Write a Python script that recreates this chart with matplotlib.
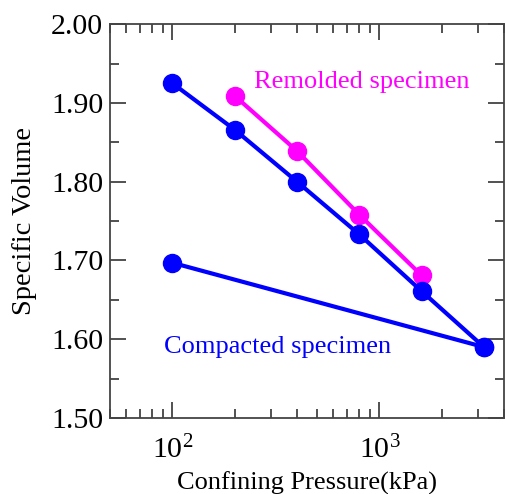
import matplotlib
matplotlib.use("Agg")
import matplotlib.pyplot as plt
from matplotlib.ticker import LogLocator, FixedLocator, MultipleLocator

plt.rcParams["font.family"] = ["Liberation Serif", "DejaVu Serif"]
plt.rcParams["mathtext.fontset"] = "stix"

# confining pressure (kPa) and specific volume
pressure_remolded = [200, 400, 800, 1600]
volume_remolded = [1.909, 1.839, 1.758, 1.681]

pressure_loading = [100, 200, 400, 800, 1600, 3200]
volume_loading = [1.925, 1.866, 1.800, 1.733, 1.661, 1.590]

pressure_compacted = [100, 3200]
volume_compacted = [1.697, 1.590]

blue = "#0000ff"
magenta = "#ff00ff"

fig = plt.figure(figsize=(5.05, 4.94), dpi=100)
ax = fig.add_axes([0.218, 0.154, 0.780, 0.797])

ax.plot(pressure_remolded, volume_remolded, "-o", color=magenta, lw=3, ms=13)
ax.plot(pressure_loading, volume_loading, "-o", color=blue, lw=3, ms=13)
ax.plot(pressure_compacted, volume_compacted, "-o", color=blue, lw=3, ms=13)

ax.text(247, 1.926, "Remolded specimen", color=magenta, fontsize=19, va="center")
ax.text(91, 1.590, "Compacted specimen", color=blue, fontsize=19, va="center")

ax.set_xscale("log")
ax.set_xlim(50, 4000)
ax.set_ylim(1.5, 2.0)
ax.xaxis.set_major_locator(FixedLocator([100, 1000]))
ax.xaxis.set_minor_locator(LogLocator(base=10, subs=range(2, 10), numticks=20))
ax.set_xticklabels([r"$\mathregular{10^{2}}$", r"$\mathregular{10^{3}}$"])
ax.yaxis.set_major_locator(MultipleLocator(0.1))
ax.yaxis.set_minor_locator(MultipleLocator(0.05))
ax.yaxis.set_major_formatter(plt.FormatStrFormatter("%.2f"))

ax.tick_params(which="both", direction="in", top=True, right=True, width=1.2, colors="#333333")
ax.tick_params(which="major", length=11.5, labelsize=21.5, labelcolor="black")
ax.tick_params(which="minor", length=6.5)
ax.tick_params(axis="y", which="major", pad=5)
ax.tick_params(axis="x", which="major", pad=13)
for s in ax.spines.values():
    s.set_linewidth(1.3)
    s.set_color("#444444")

ax.set_xlabel("Confining Pressure(kPa)", fontsize=19, labelpad=5)
ax.set_ylabel("Specific Volume", fontsize=20.5, labelpad=10)

fig.savefig("out.png", dpi=100)
